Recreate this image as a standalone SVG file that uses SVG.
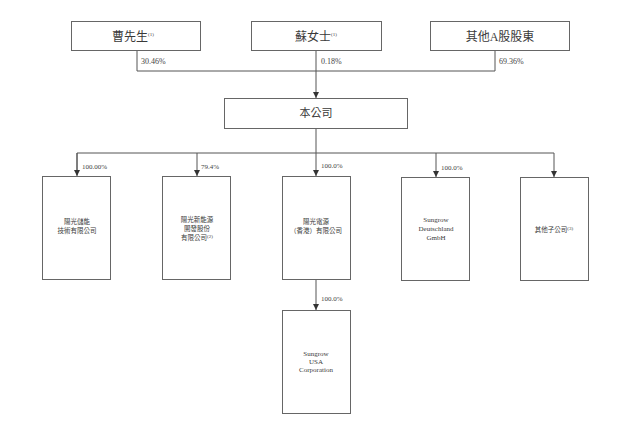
<svg xmlns="http://www.w3.org/2000/svg" width="640" height="431" viewBox="0 0 640 431">
<style>
.box{fill:#fff;stroke:#666;stroke-width:1}
.ln{fill:none;stroke:#555;stroke-width:1}
.t{font-family:"Liberation Serif","Noto Sans CJK TC",serif;fill:#3a3a3a;text-anchor:middle}
.big{font-size:12px}
.mid{font-size:11px}
.sm{font-size:6.5px}
.en{font-size:7px}
.pc{font-family:"Liberation Serif",serif;font-size:7px;fill:#444}
.pt{font-size:8px}
.sup{font-size:5px}
</style>
<defs>
<marker id="arr" viewBox="0 0 6 6" refX="6" refY="3" markerWidth="6" markerHeight="6" orient="auto" markerUnits="userSpaceOnUse">
<path d="M0,0 L6,3 L0,6 z" fill="#333"/>
</marker>
</defs>
<rect width="640" height="431" fill="#fff"/>
<g id="connectors">
<path class="ln" d="M137,51 V71 H495 V51"/>
<path class="ln" d="M316,51 V98" marker-end="url(#arr)"/>
<path class="ln" d="M316,128 V153"/>
<path class="ln" d="M77,175 V153 H554 V177" marker-end="url(#arr)"/>
<path class="ln" d="M77,153 V176" marker-end="url(#arr)"/>
<path class="ln" d="M197,153 V176" marker-end="url(#arr)"/>
<path class="ln" d="M316,153 V176" marker-end="url(#arr)"/>
<path class="ln" d="M436,153 V177" marker-end="url(#arr)"/>
<path class="ln" d="M316,279 V310" marker-end="url(#arr)"/>
<text class="pc pt" x="141" y="64">30.46%</text>
<text class="pc pt" x="321" y="64">0.18%</text>
<text class="pc pt" x="499" y="64">69.36%</text>
<text class="pc" x="82" y="169">100.00%</text>
<text class="pc" x="201" y="169">79.4%</text>
<text class="pc" x="321" y="168">100.0%</text>
<text class="pc" x="441" y="170">100.0%</text>
<text class="pc" x="321" y="301">100.0%</text>
</g>
<g id="n-cao">
<rect class="box" x="71.5" y="21.5" width="129" height="29"/>
<text class="t big" x="133" y="41">曹先生<tspan class="sup" dy="-5">(1)</tspan></text>
</g>
<g id="n-su">
<rect class="box" x="251.5" y="21.5" width="130" height="29"/>
<text class="t big" x="316" y="41">蘇女士<tspan class="sup" dy="-5">(1)</tspan></text>
</g>
<g id="n-other">
<rect class="box" x="430.5" y="21.5" width="139" height="29"/>
<text class="t big" x="500" y="41">其他A股股東</text>
</g>
<g id="n-company">
<rect class="box" x="224.5" y="98.5" width="183" height="30"/>
<text class="t mid" x="316" y="117">本公司</text>
</g>
<g id="n-a">
<rect class="box" x="42.5" y="176.5" width="68" height="103"/>
<text class="t sm" x="77" y="224">陽光儲能</text>
<text class="t sm" x="77" y="233">技術有限公司</text>
</g>
<g id="n-b">
<rect class="box" x="162.5" y="176.5" width="68" height="103"/>
<text class="t sm" x="197" y="222">陽光新能源</text>
<text class="t sm" x="197" y="231">開發股份</text>
<text class="t sm" x="197" y="240">有限公司<tspan class="sup" dy="-2">(2)</tspan></text>
</g>
<g id="n-c">
<rect class="box" x="282.5" y="176.5" width="68" height="103"/>
<text class="t sm" x="316" y="224">陽光電源</text>
<text class="t sm" x="316" y="233">（香港）有限公司</text>
</g>
<g id="n-d">
<rect class="box" x="401.5" y="177.5" width="68" height="103"/>
<text class="t en" x="436" y="222">Sungrow</text>
<text class="t en" x="436" y="231">Deutschland</text>
<text class="t en" x="436" y="240">GmbH</text>
</g>
<g id="n-e">
<rect class="box" x="520.5" y="177.5" width="68" height="103"/>
<text class="t sm" x="554" y="232">其他子公司<tspan class="sup" dy="-2">(3)</tspan></text>
</g>
<g id="n-f">
<rect class="box" x="282.5" y="310.5" width="68" height="103"/>
<text class="t en" x="316" y="356">Sungrow</text>
<text class="t en" x="316" y="364">USA</text>
<text class="t en" x="316" y="372">Corporation</text>
</g>
</svg>
